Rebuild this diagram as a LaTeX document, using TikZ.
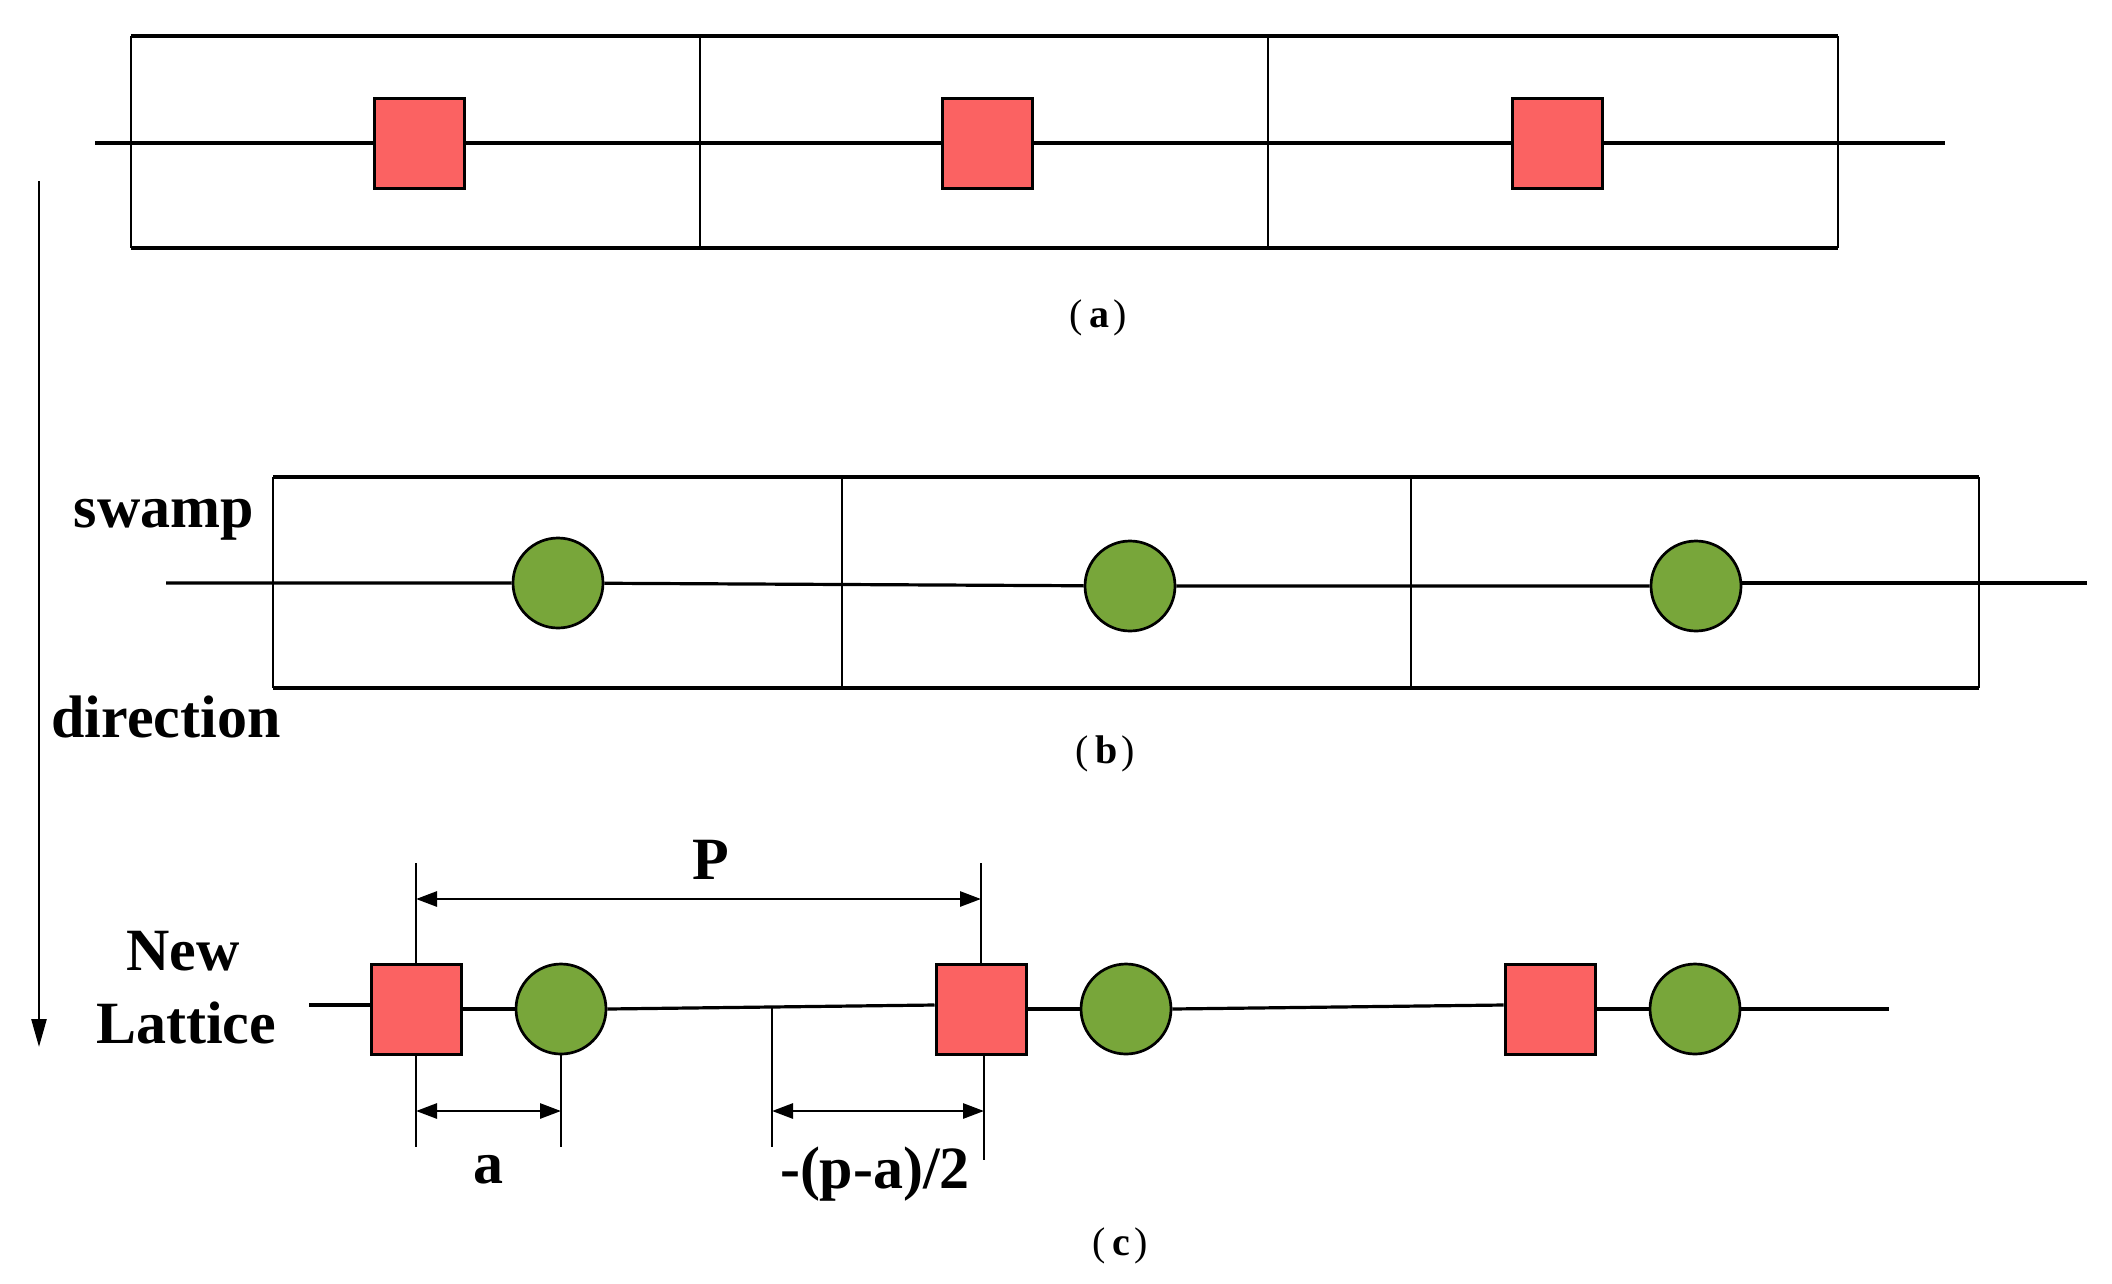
\documentclass[tikz,border=0pt]{standalone}
\usepackage{fontspec}
\setmainfont{Liberation Serif}
\usetikzlibrary{arrows.meta}
\definecolor{sqred}{HTML}{FB6262}
\definecolor{dotgreen}{HTML}{78A63A}
\begin{document}
\begin{tikzpicture}[x=1pt,y=-1pt,
  sq/.style={draw, line width=3pt, fill=sqred, minimum width=90pt, minimum height=90pt, inner sep=0pt},
  dot/.style={draw, line width=2.7pt, fill=dotgreen, circle, minimum size=90pt, inner sep=0pt},
  chain/.style={line width=3.2pt},
  cellh/.style={line width=3.2pt},
  cellv/.style={line width=2.6pt},
  ext/.style={line width=1.8pt},
  dim/.style={line width=2.8pt, {Triangle[length=21pt,width=15pt]}-{Triangle[length=21pt,width=15pt]}},
  lbl/.style={font=\fontsize{60}{64}\selectfont\bfseries, inner sep=0pt, anchor=base},
  captext/.style={font=\fontsize{40}{42}\selectfont, inner sep=0pt, anchor=base}]
\useasboundingbox (0,0) rectangle (2112,1283);

% ---------- (a) ----------
\draw[cellh] (131,36) -- (1838,36) (131,248) -- (1838,248);
\draw[cellv] (131,36) -- (131,248) (700,36) -- (700,248) (1268,36) -- (1268,248) (1838,36) -- (1838,248);
\node[sq] (a1) at (419,143) {};
\node[sq] (a2) at (987,143) {};
\node[sq] (a3) at (1557,143) {};
\coordinate (aL) at (95,143);
\coordinate (aR) at (1945,143);
\draw[chain] (aL) -- (a1) -- (a2) -- (a3) -- (aR);
\node[captext] (capa) at (1098,327) {(\hspace{7pt}\textbf{a}\hspace{4pt})};

% ---------- (b) ----------
\draw[cellh] (273,477) -- (1979,477) (273,688) -- (1979,688);
\draw[cellv] (273,477) -- (273,688) (842,477) -- (842,688) (1411,477) -- (1411,688) (1979,477) -- (1979,688);
\node[dot] (b1) at (558,583) {};
\node[dot] (b2) at (1130,586) {};
\node[dot] (b3) at (1696,586) {};
\coordinate (bL) at (166,583);
\coordinate (bR) at (2087,583);
\draw[chain] (bL) -- (b1) -- (b2) -- (b3);
\draw[chain] ([yshift=3pt]b3.east) -- (bR);
\node[captext] (capb) at (1105,763) {(\hspace{7pt}\textbf{b}\hspace{4pt})};

% ---------- direction arrow and labels ----------
\coordinate (dT) at (39,181);
\coordinate (dB) at (39,1047);
\draw[line width=2.6pt, -{Triangle[length=28pt,width=15pt]}] (dT) -- (dB);
\node[lbl] (swamp) at (164,527) {swamp};
\node[lbl] (direction) at (166,737) {direction};
\node[lbl] (new) at (183,970) {New};
\node[lbl] (lattice) at (186,1043) {Lattice};

% ---------- (c) ----------
\node[sq] (c1) at (416,1009) {};
\node[dot] (d1) at (561,1009) {};
\node[sq] (c2) at (981,1009) {};
\node[dot] (d2) at (1126,1009) {};
\node[sq] (c3) at (1550,1009) {};
\node[dot] (d3) at (1695,1009) {};
\coordinate (cL) at (309,1005);
\coordinate (cR) at (1889,1009);
\draw[chain] (cL) -- ([yshift=4pt]c1.west);
\draw[chain] (c1) -- (d1);
\draw[chain] (d1.east) -- ([yshift=4pt]c2.west);
\draw[chain] (c2) -- (d2);
\draw[chain] (d2.east) -- ([yshift=4pt]c3.west);
\draw[chain] (c3) -- (d3) -- (cR);

% dimension P
\coordinate (p1) at (416,863);
\coordinate (p2) at (981,863);
\draw[ext] (p1) -- (c1.north);
\draw[ext] (p2) -- (c2.north);
\coordinate (pa) at (416,899);
\coordinate (pb) at (981,899);
\draw[dim] (pa) -- (pb);
\node[lbl] (P) at (711,879) {P};

% dimension a
\coordinate (e1) at (416,1147);
\coordinate (e2) at (561,1147);
\draw[ext] (c1.south) -- (e1);
\draw[ext] (d1.south) -- (e2);
\coordinate (qa) at (416,1111);
\coordinate (qb) at (561,1111);
\draw[dim] (qa) -- (qb);
\node[lbl] (alab) at (488,1183) {a};

% dimension -(p-a)/2
\coordinate (m1) at (772,1007);
\coordinate (m2) at (772,1147);
\coordinate (m3) at (984,1055);
\coordinate (m4) at (984,1160);
\draw[ext] (m1) -- (m2);
\draw[ext] (m3) -- (m4);
\coordinate (ra) at (772,1111);
\coordinate (rb) at (984,1111);
\draw[dim] (ra) -- (rb);
\node[lbl] (half) at (875,1188) {-(p-a)/2};

\node[captext] (capc) at (1120,1255) {(\hspace{7pt}\textbf{c}\hspace{4pt})};
\end{tikzpicture}
\end{document}
